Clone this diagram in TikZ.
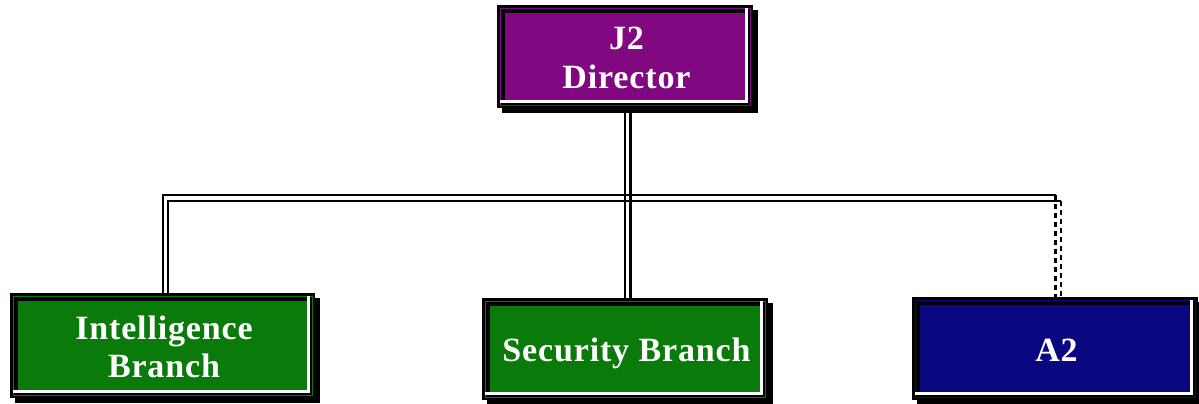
\documentclass[tikz,border=0pt]{standalone}
\usepackage{fontspec}
\newfontfamily\boxfont{Liberation Serif}[LetterSpace=2.5]
\usetikzlibrary{backgrounds}
\definecolor{jpurple}{RGB}{128,8,128}
\definecolor{jgreen}{RGB}{10,122,10}
\definecolor{jnavy}{RGB}{10,8,128}
\tikzset{
 orgbox/.style={fill=#1, text=white, outer sep=0pt, inner sep=0pt, align=center,
   font=\boxfont\bfseries\fontsize{34}{38.5}\selectfont},
 conn/.style={black, line width=2.2pt},
 dashconn/.style={conn, dash pattern=on 5pt off 4pt},
 bevel/.style={white, line width=2.6pt},
}
\newcommand\boxdeco[2]{%
 \fill[black] ([shift={(-3pt,3pt)}]#1.north west) rectangle ([shift={(10pt,-10pt)}]#1.south east);
 \fill[black] ([shift={(-8pt,8pt)}]#1.north west) rectangle ([shift={(5pt,-5pt)}]#1.south east);
 \draw[#2, line width=0.7pt] ([shift={(-5pt,5pt)}]#1.north west) rectangle ([shift={(2pt,-2pt)}]#1.south east);
}
\newcommand\boxbevel[1]{%
 \draw[bevel] ([shift={(-1.3pt,5pt)}]#1.north east) -- ([shift={(-1.3pt,1.3pt)}]#1.south east) -- ([shift={(-5pt,1.3pt)}]#1.south west);
}
\begin{document}
\begin{tikzpicture}[x=1pt,y=-1pt]
\useasboundingbox (0,0) rectangle (1199,404);
\node[orgbox=jpurple, minimum width=243pt, minimum height=90pt] (j2) at (626.5,58) {J2\\Director};
\node[orgbox=jgreen, minimum width=292pt, minimum height=92pt] (intel) at (164,347) {Intelligence\\Branch};
\node[orgbox=jgreen, minimum width=273pt, minimum height=89pt, text depth=1pt] (sec) at (626.5,350.5) {Security Branch};
\node[orgbox=jnavy, minimum width=273pt, minimum height=90pt] (a2) at (1056.5,350) {A2};
\coordinate (bus) at (626.5,198);
\coordinate (busT) at ([yshift=3pt]bus);
\coordinate (busB) at ([yshift=-3pt]bus);
\coordinate (intL) at ([xshift=-1pt]intel.north);
\coordinate (intR) at ([xshift=4pt]intel.north);
\coordinate (a2L) at ([xshift=-1pt]a2.north);
\coordinate (a2R) at ([xshift=4.5pt]a2.north);
\begin{scope}[on background layer]
 \draw[conn] ([xshift=-1.5pt]j2.south) -- ([xshift=-1.5pt]sec.north);
 \draw[conn] ([xshift=4pt]j2.south) -- ([xshift=4pt]sec.north);
 \draw[conn] (intL) |- (busT) -- (busT -| a2L);
 \draw[dashconn] (busT -| a2L) -- (a2L);
 \draw[conn] (intR) |- (busB) -- (busB -| a2R);
 \draw[dashconn] (busB -| a2R) -- (a2R);
 \boxdeco{j2}{jpurple}
 \boxdeco{intel}{jgreen}
 \boxdeco{sec}{jgreen}
 \boxdeco{a2}{jnavy}
\end{scope}
\boxbevel{j2}
\boxbevel{intel}
\boxbevel{sec}
\boxbevel{a2}
\end{tikzpicture}
\end{document}
